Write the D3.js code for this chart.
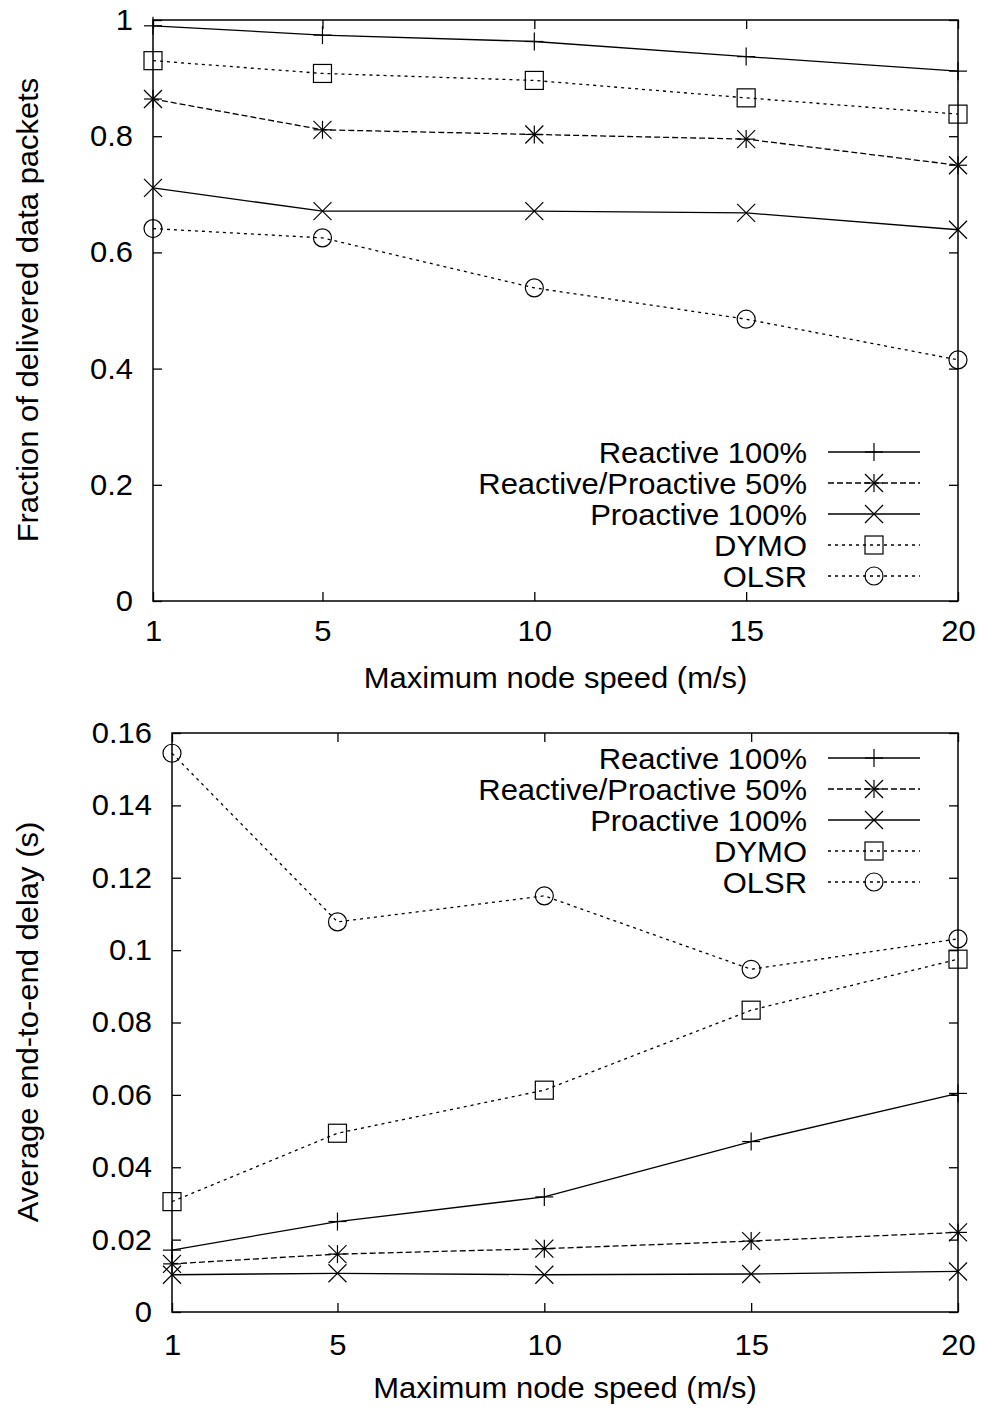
<!DOCTYPE html>
<html>
<head>
<meta charset="utf-8">
<script src="https://cdn.jsdelivr.net/npm/d3@7/dist/d3.min.js"></script>
<style>
  html, body { margin: 0; padding: 0; background: #fff; }
  svg { display: block; }
  text { font-family: "Liberation Sans", Arial, sans-serif; fill: #000; }
</style>
</head>
<body>
<svg id="chart" width="984" height="1410"></svg>
<script>
// ---------- data ----------
const speeds = [1, 5, 10, 15, 20];
const seriesNames = ["Reactive 100%", "Reactive/Proactive 50%", "Proactive 100%", "DYMO", "OLSR"];

// Top chart: fraction of delivered data packets
const pdrReactive   = [0.990, 0.974, 0.963, 0.937, 0.912];
const pdrMixed      = [0.864, 0.811, 0.803, 0.795, 0.750];
const pdrProactive  = [0.711, 0.671, 0.671, 0.668, 0.639];
const pdrDYMO       = [0.930, 0.908, 0.896, 0.866, 0.838];
const pdrOLSR       = [0.641, 0.625, 0.539, 0.485, 0.415];

// Bottom chart: average end-to-end delay (s)
const delayReactive  = [0.0171, 0.0250, 0.0318, 0.0471, 0.0604];
const delayMixed     = [0.0133, 0.0160, 0.0175, 0.0196, 0.0220];
const delayProactive = [0.0103, 0.0107, 0.0103, 0.0105, 0.0112];
const delayDYMO      = [0.0305, 0.0494, 0.0613, 0.0834, 0.0975];
const delayOLSR      = [0.1544, 0.1078, 0.1150, 0.0947, 0.1031];

const xTicks = [1, 5, 10, 15, 20];
const yTicksTop = [0, 0.2, 0.4, 0.6, 0.8, 1];
const yTickLabelsTop = ["0", "0.2", "0.4", "0.6", "0.8", "1"];
const yTicksBottom = [0, 0.02, 0.04, 0.06, 0.08, 0.1, 0.12, 0.14, 0.16];
const yTickLabelsBottom = ["0", "0.02", "0.04", "0.06", "0.08", "0.1", "0.12", "0.14", "0.16"];

const xTitle = "Maximum node speed (m/s)";
const yTitleTop = "Fraction of delivered data packets";
const yTitleBottom = "Average end-to-end delay (s)";

// ---------- styles ----------
const FONT = 29.5;
const SX = 1.05; // horizontal stretch of glyphs
const styles = [
  { dash: null,  marker: "plus" },
  { dash: "6,3", marker: "star" },
  { dash: null,  marker: "cross" },
  { dash: "3,4", marker: "square" },
  { dash: "3,4", marker: "circle" }
];
const M = 9; // marker half-size

const svg = d3.select("#chart");

function drawMarker(g, type, cx, cy) {
  const s = M;
  const st = { stroke: "#000", "stroke-width": 1.2, fill: "none" };
  function line(x1, y1, x2, y2) {
    const l = g.append("line").attr("x1", cx + x1).attr("y1", cy + y1).attr("x2", cx + x2).attr("y2", cy + y2);
    Object.entries(st).forEach(([k, v]) => l.attr(k, v));
  }
  if (type === "plus") { line(-s, 0, s, 0); line(0, -s, 0, s); }
  else if (type === "cross") { line(-s, -s, s, s); line(-s, s, s, -s); }
  else if (type === "star") { line(-s, 0, s, 0); line(0, -s, 0, s); line(-s, -s, s, s); line(-s, s, s, -s); }
  else if (type === "square") {
    const r = g.append("rect").attr("x", cx - s).attr("y", cy - s).attr("width", 2 * s).attr("height", 2 * s);
    Object.entries(st).forEach(([k, v]) => r.attr(k, v));
  } else if (type === "circle") {
    const c = g.append("circle").attr("cx", cx).attr("cy", cy).attr("r", s);
    Object.entries(st).forEach(([k, v]) => c.attr(k, v));
  }
}

// text placed at (x,y) with slight horizontal stretch
function stretchedText(g, x, y, str, anchor, rotate) {
  const t = g.append("text")
    .attr("transform", `translate(${x},${y})` + (rotate ? ` rotate(${rotate})` : "") + ` scale(${SX},1)`)
    .attr("text-anchor", anchor).attr("font-size", FONT).text(str);
  return t;
}

function drawPanel(opt) {
  const { left, right, top, bottom, yDomain, yTicks, yLabels, series, legendRows, yTitle, yTitleY, xLabelPad, xTitleY } = opt;
  const x = d3.scaleLinear().domain([1, 20]).range([left, right]);
  const y = d3.scaleLinear().domain(yDomain).range([bottom, top]);
  const g = svg.append("g");

  // frame
  g.append("rect").attr("x", left).attr("y", top).attr("width", right - left).attr("height", bottom - top)
    .attr("fill", "none").attr("stroke", "#000").attr("stroke-width", 1.5);

  const fmtY = d => yLabels[yTicks.indexOf(d)];

  // axes with inward ticks
  const axL = d3.axisLeft(y).tickValues(yTicks).tickFormat(fmtY).tickSize(-9).tickPadding(20);
  const axR = d3.axisRight(y).tickValues(yTicks).tickFormat("").tickSize(-9);
  const axB = d3.axisBottom(x).tickValues(xTicks).tickFormat(d3.format("d")).tickSize(-9).tickPadding(xLabelPad);
  const axT = d3.axisTop(x).tickValues(xTicks).tickFormat("").tickSize(-9);

  [[axL, `translate(${left},0)`], [axR, `translate(${right},0)`], [axB, `translate(0,${bottom})`], [axT, `translate(0,${top})`]]
    .forEach(([ax, tr]) => {
      const a = g.append("g").attr("transform", tr).call(ax);
      a.select(".domain").remove();
      a.selectAll("line").attr("stroke", "#000").attr("stroke-width", 1.3);
      a.selectAll("text").attr("font-size", FONT).attr("font-family", "Liberation Sans, Arial, sans-serif").attr("fill", "#000")
        .each(function () {
          const t = d3.select(this);
          const tx = +t.attr("x") || 0;
          t.attr("x", tx / SX).attr("transform", `scale(${SX},1)`);
        });
    });

  // series lines
  const lineGen = d3.line().x((d, i) => x(speeds[i])).y(d => y(d));
  series.forEach((vals, si) => {
    const st = styles[si];
    g.append("path").datum(vals).attr("d", lineGen).attr("fill", "none")
      .attr("stroke", "#000").attr("stroke-width", 1.3)
      .attr("stroke-dasharray", st.dash);
    vals.forEach((v, i) => drawMarker(g, st.marker, x(speeds[i]), y(v)));
  });

  // legend
  seriesNames.forEach((name, si) => {
    const st = styles[si];
    const cy = legendRows[si];
    stretchedText(g, 807, cy, name, "end").attr("dy", "0.36em");
    g.append("line").attr("x1", 828).attr("x2", 920).attr("y1", cy).attr("y2", cy)
      .attr("stroke", "#000").attr("stroke-width", 1.3).attr("stroke-dasharray", st.dash);
    drawMarker(g, st.marker, 874, cy);
  });

  // titles
  stretchedText(g, (left + right) / 2, xTitleY, xTitle, "middle");
  stretchedText(g, 38, yTitleY, yTitle, "middle", -90);
}

drawPanel({
  left: 153, right: 958, top: 20, bottom: 601,
  yDomain: [0, 1], yTicks: yTicksTop, yLabels: yTickLabelsTop,
  series: [pdrReactive, pdrMixed, pdrProactive, pdrDYMO, pdrOLSR],
  legendRows: [452, 483, 514, 545, 576],
  yTitle: yTitleTop, yTitleY: 310, xLabelPad: 19, xTitleY: 688
});

drawPanel({
  left: 172, right: 958, top: 733, bottom: 1312,
  yDomain: [0, 0.16], yTicks: yTicksBottom, yLabels: yTickLabelsBottom,
  series: [delayReactive, delayMixed, delayProactive, delayDYMO, delayOLSR],
  legendRows: [758, 789, 820, 851, 882],
  yTitle: yTitleBottom, yTitleY: 1022, xLabelPad: 22, xTitleY: 1398
});
</script>
</body>
</html>
